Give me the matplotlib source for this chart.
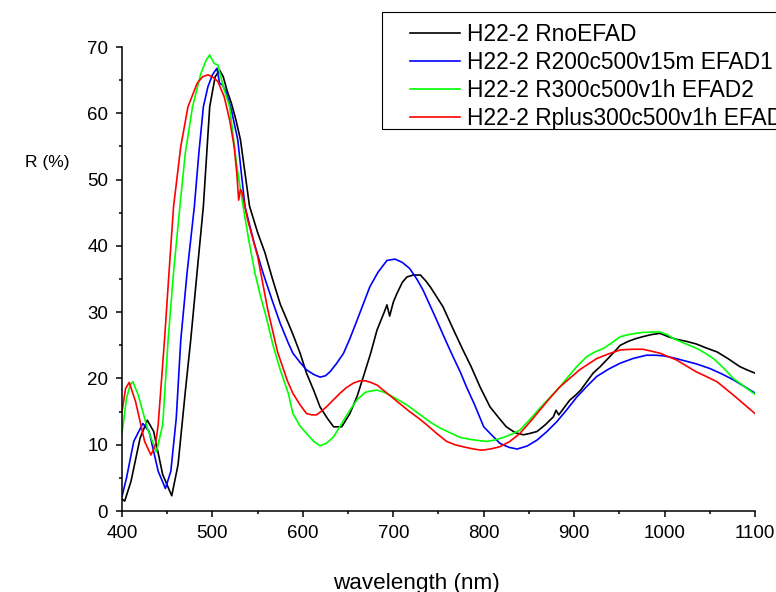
import matplotlib
matplotlib.use("Agg")
import matplotlib.pyplot as plt
from matplotlib.patches import Rectangle

plt.rcParams['font.family'] = ['Liberation Sans', 'DejaVu Sans']

# H22-2 RnoEFAD
wl_black = [400, 403, 410, 420, 428, 435, 445, 455, 462, 470, 476, 483, 490, 497, 503, 508, 512, 516,
            521, 526, 531, 536, 541, 550, 558, 566, 575, 584, 590, 597, 604, 612, 619, 627, 634, 643,
            652, 660, 667, 675, 682, 690, 693, 696, 700, 704, 710, 715, 722, 730, 736, 741, 748, 755,
            765, 777, 786, 796, 807, 817, 825, 835, 844, 851, 859, 868, 877, 880, 883, 889, 895, 901,
            907, 914, 921, 929, 936, 943, 951, 960, 968, 976, 985, 995, 1004, 1013, 1024, 1035, 1046,
            1058, 1070, 1083, 1091, 1100]
r_black = [1.8, 1.5, 4.5, 11.0, 13.7, 12.0, 5.5, 2.3, 7.0, 18.0, 25.8, 36.0, 46.0, 61.0, 65.5, 66.5, 65.5, 63.5,
           61.5, 59.0, 56.0, 51.0, 46.0, 42.0, 39.0, 35.2, 31.2, 28.3, 26.3, 23.8, 20.8, 18.2, 15.7, 14.0, 12.7, 12.7,
           14.7, 17.3, 20.3, 23.8, 27.3, 30.0, 31.1, 29.4, 31.5, 32.8, 34.5, 35.3, 35.6, 35.6, 34.7, 33.8, 32.3, 30.8,
           27.8, 24.3, 21.8, 18.7, 15.7, 14.0, 12.7, 11.8, 11.5, 11.7, 12.0, 13.0, 14.2, 15.2, 14.5, 15.6, 16.7, 17.4,
           18.2, 19.5, 20.8, 21.8, 22.8, 23.8, 25.0, 25.6, 26.0, 26.3, 26.6, 26.8, 26.3, 25.9, 25.6, 25.2, 24.6,
           24.0, 23.0, 21.8, 21.3, 20.8]

# H22-2 R200c500v15m EFAD1
wl_blue = [400, 405, 413, 423, 430, 440, 448, 454, 460, 465, 472, 480, 485, 490, 495, 500, 505, 508, 511,
           515, 521, 528, 536, 546, 556, 566, 575, 584, 589, 597, 604, 612, 619, 625, 630, 637, 645, 652,
           660, 667, 674, 683, 693, 702, 710, 718, 726, 733, 740, 748, 757, 766, 774, 781, 790, 800, 810,
           818, 828, 837, 848, 859, 870, 881, 892, 903, 914, 925, 938, 951, 965, 980, 990, 999, 1010, 1021,
           1035, 1050, 1063, 1076, 1088, 1100]
r_blue = [2.2, 5.0, 10.5, 13.2, 12.0, 6.0, 3.4, 6.0, 14.0, 25.8, 36.0, 45.9, 54.0, 61.0, 64.0, 65.8, 66.8, 64.5, 64.3,
          63.2, 60.5, 56.0, 45.9, 40.5, 35.9, 31.8, 28.3, 25.3, 23.8, 22.4, 21.3, 20.6, 20.2, 20.4, 21.0, 22.2, 23.8, 26.0,
          28.8, 31.3, 33.8, 36.0, 37.8, 38.0, 37.5, 36.6, 35.0, 33.3, 31.2, 28.8, 26.0, 23.3, 21.0, 18.7, 16.0, 12.7, 11.3,
          10.2, 9.6, 9.35, 9.8, 10.7, 12.0, 13.5, 15.3, 17.2, 18.8, 20.3, 21.4, 22.3, 23.0, 23.5, 23.5, 23.4, 23.1, 22.7,
          22.2, 21.5, 20.7, 19.8, 18.8, 17.8]

# H22-2 R300c500v1h EFAD2
wl_green = [400, 405, 409, 412, 418, 428, 438, 445, 451, 457, 464, 470, 478, 487, 493, 497, 502, 506, 512,
            519, 527, 534, 540, 547, 553, 560, 567, 575, 584, 589, 597, 604, 612, 619, 626, 634, 643, 652,
            660, 669, 675, 682, 690, 696, 705, 715, 724, 733, 742, 752, 763, 774, 785, 796, 803, 812, 822,
            831, 840, 851, 862, 873, 884, 893, 903, 914, 923, 932, 942, 951, 960, 968, 977, 986, 995, 1003,
            1010, 1022, 1036, 1045, 1054, 1065, 1076, 1088, 1100]
r_green = [11.7, 17.0, 19.0, 19.5, 17.5, 12.5, 8.9, 13.0, 25.8, 36.0, 45.9, 54.0, 61.0, 65.9, 68.0, 68.8, 67.5, 67.3, 64.0,
           61.0, 52.0, 45.9, 41.0, 35.9, 32.5, 29.0, 25.0, 21.3, 17.7, 14.7, 12.8, 11.7, 10.5, 9.85, 10.2, 11.2, 13.2, 15.2,
           16.8, 17.9, 18.1, 18.25, 17.9, 17.5, 16.8, 16.0, 15.1, 14.2, 13.3, 12.5, 11.8, 11.1, 10.8, 10.6, 10.5, 10.7, 11.1,
           11.6, 12.2, 13.8, 15.5, 17.1, 18.7, 20.2, 21.8, 23.3, 24.0, 24.5, 25.4, 26.3, 26.6, 26.8, 26.95, 27.0, 27.0, 26.6,
           26.0, 25.3, 24.5, 23.8, 23.0, 21.6, 20.0, 18.8, 17.6]

# H22-2 Rplus300c500v1h EFAD
wl_red = [400, 404, 408, 415, 425, 432, 437, 440, 447, 452, 457, 465, 473, 483, 489, 495, 500, 506, 513,
          519, 524, 527, 529, 531, 533, 539, 550, 561, 572, 583, 589, 597, 604, 610, 615, 620, 626, 634,
          641, 648, 656, 662, 669, 675, 682, 691, 700, 709, 718, 728, 737, 748, 759, 768, 777, 787, 796,
          800, 809, 818, 829, 840, 851, 862, 873, 884, 895, 906, 916, 925, 938, 951, 964, 976, 986, 995,
          1004, 1013, 1024, 1035, 1046, 1058, 1067, 1076, 1088, 1100]
r_red = [15.0, 18.5, 19.4, 16.5, 10.5, 8.45, 10.0, 13.0, 25.8, 36.0, 45.9, 55.0, 61.0, 64.5, 65.5, 65.8, 65.5, 64.8, 62.5,
         59.0, 55.0, 50.9, 46.9, 48.5, 48.0, 43.9, 38.4, 30.5, 24.0, 19.6, 17.75, 16.0, 14.7, 14.5, 14.5, 15.0, 15.7, 16.8,
         17.75, 18.6, 19.3, 19.6, 19.65, 19.4, 19.0, 18.0, 17.0, 16.0, 15.0, 14.0, 13.0, 11.7, 10.5, 10.0, 9.7, 9.4, 9.2,
         9.2, 9.4, 9.7, 10.5, 11.7, 13.4, 15.2, 17.0, 18.7, 20.0, 21.3, 22.2, 23.0, 23.7, 24.3, 24.4, 24.4, 24.1, 23.8,
         23.3, 22.8, 21.9, 21.0, 20.3, 19.5, 18.5, 17.5, 16.1, 14.7]

labels = ["H22-2 RnoEFAD", "H22-2 R200c500v15m EFAD1", "H22-2 R300c500v1h EFAD2", "H22-2 Rplus300c500v1h EFAD"]
colors = ["#000000", "#0000ff", "#00ff00", "#ff0000"]

fig = plt.figure(figsize=(7.76, 5.92), dpi=100)
ax = fig.add_axes([122 / 776, 1 - 511 / 592, 633 / 776, 464 / 592])

series = [(wl_black, r_black), (wl_blue, r_blue), (wl_green, r_green), (wl_red, r_red)]
lines = []
for (x, y), c, lab in zip(series, colors, labels):
    ln, = ax.plot(x, y, color=c, lw=1.2, label=lab)
    lines.append(ln)

ax.set_xlim(400, 1100)
ax.set_ylim(0, 70)
ax.set_xticks(range(400, 1101, 100))
ax.set_xticks(range(450, 1100, 100), minor=True)
ax.set_yticks(range(0, 71, 10))
ax.set_yticks(range(5, 70, 10), minor=True)
ax.spines['top'].set_visible(False)
ax.spines['right'].set_visible(False)
for s in ['left', 'bottom']:
    ax.spines[s].set_linewidth(1.1)
ax.tick_params(which='major', direction='out', length=4.5, width=1.1, labelsize=13.5, pad=5.5)
ax.tick_params(which='minor', direction='out', length=2.5, width=1.1)

fig.text(47 / 776, 1 - 163 / 592, "R (%)", fontsize=12.5, ha='center', va='center')
fig.text(416 / 776, 1 - 583 / 592, "wavelength (nm)", fontsize=16.2, ha='center', va='center')

# legend frame runs off the right edge like in the original
fig.patches.append(Rectangle((382 / 776, 1 - 129 / 592), 0.6, 117 / 592, transform=fig.transFigure,
                             fill=False, edgecolor='black', lw=0.8, clip_on=False))
fig.legend(handles=lines, loc='upper left', bbox_to_anchor=(410 / 776, 1 - 23 / 592), frameon=False,
           fontsize=16.4, handlelength=2.2, handletextpad=0.3, labelspacing=0.22, borderpad=0,
           borderaxespad=0)

fig.savefig("out.png", dpi=100)
